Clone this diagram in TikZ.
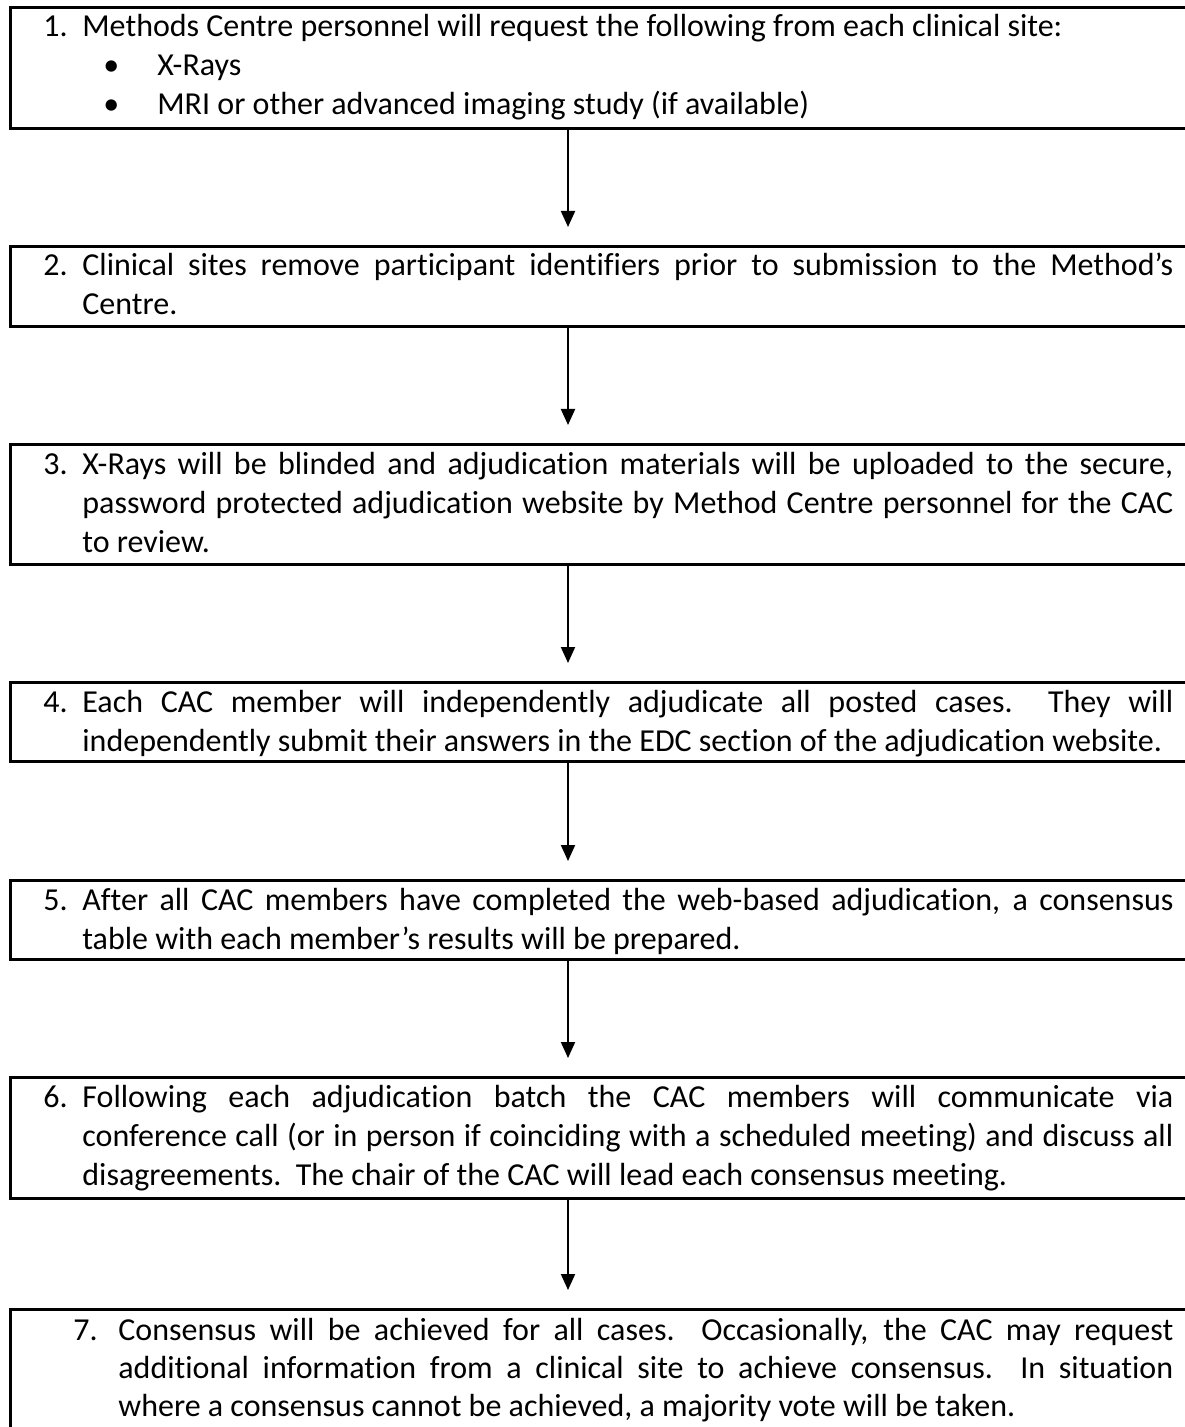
\documentclass[tikz,border=0pt]{standalone}
\usepackage{fontspec}
\setmainfont{Carlito}[Ligatures=NoCommon]
\usetikzlibrary{arrows.meta,calc}
\newcommand{\num}[1]{\makebox[19.5pt][l]{#1}}
\newcommand{\hang}{\hspace*{19.5pt}}
\newcommand{\jl}[1]{\makebox[545.5pt][s]{#1}}
\begin{document}
\begin{tikzpicture}[x=0.5pt,y=-0.5pt,
  box/.style={draw, line width=1.3pt, minimum width=595.5pt, inner sep=0pt, anchor=north west},
  txt/.style={anchor=base west, inner sep=0pt, font=\fontsize{16pt}{19.5pt}\selectfont},
  arr/.style={line width=1pt, -{Triangle[length=8pt,width=7pt]}}]
\useasboundingbox (0,0) rectangle (1184,1427);
\coordinate (ax) at (568,0);
% boxes
\node[box, minimum height=60.5pt] (b1) at (9,6) {};
\node[box, minimum height=40pt] (b2) at (9,245) {};
\node[box, minimum height=60pt] (b3) at (9,443) {};
\node[box, minimum height=39.5pt] (b4) at (9,681) {};
\node[box, minimum height=39.5pt] (b5) at (9,879) {};
\node[box, minimum height=60.5pt] (b6) at (9,1076) {};
\node[box, minimum height=70pt] (b7) at (9,1308) {};
% texts
\node[txt] (t1) at (43,37) {\parbox[t]{565pt}{\num{1.}Methods Centre personnel will request the following from each clinical site:\\
\hspace*{30pt}\makebox[27pt][l]{•}X-Rays\\
\hspace*{30pt}\makebox[27pt][l]{•}MRI or other advanced imaging study (if available)}};
\node[txt] (t2) at (43,276) {\parbox[t]{565pt}{\num{2.}\jl{Clinical sites remove participant identifiers prior to submission to the Method’s}\\
\hang Centre.}};
\node[txt] (t3) at (43,474) {\parbox[t]{565pt}{\num{3.}\jl{X-Rays will be blinded and adjudication materials will be uploaded to the secure,}\\
\hang\jl{password protected adjudication website by Method Centre personnel for the CAC}\\
\hang to review.}};
\node[txt] (t4) at (43,712) {\parbox[t]{565pt}{\num{4.}\jl{Each CAC member will independently adjudicate all posted cases.\ \ They will}\\
\hang independently submit their answers in the EDC section of the adjudication website.}};
\node[txt] (t5) at (43,910) {\parbox[t]{565pt}{\num{5.}\jl{After all CAC members have completed the web-based adjudication, a consensus}\\
\hang table with each member’s results will be prepared.}};
\node[txt] (t6) at (43,1107) {\parbox[t]{565pt}{\num{6.}\jl{Following each adjudication batch the CAC members will communicate via}\\
\hang\jl{conference call (or in person if coinciding with a scheduled meeting) and discuss all}\\
\hang disagreements.\ \ The chair of the CAC will lead each consensus meeting.}};
\node[txt, font=\fontsize{16pt}{19pt}\selectfont] (t7) at (73,1340) {\parbox[t]{550pt}{\makebox[22.5pt][l]{7.}\makebox[527.5pt][s]{Consensus will be achieved for all cases.\ \ Occasionally, the CAC may request}\\
\hspace*{22.5pt}\makebox[527.5pt][s]{additional information from a clinical site to achieve consensus.\ \ In situation}\\
\hspace*{22.5pt}where a consensus cannot be achieved, a majority vote will be taken.}};
% arrows
\draw[arr] (b1.south -| ax) -- ($(b2.north -| ax)+(0,-18)$);
\draw[arr] (b2.south -| ax) -- ($(b3.north -| ax)+(0,-18)$);
\draw[arr] (b3.south -| ax) -- ($(b4.north -| ax)+(0,-18)$);
\draw[arr] (b4.south -| ax) -- ($(b5.north -| ax)+(0,-18)$);
\draw[arr] (b5.south -| ax) -- ($(b6.north -| ax)+(0,-18)$);
\draw[arr] (b6.south -| ax) -- ($(b7.north -| ax)+(0,-18)$);
\end{tikzpicture}
\end{document}
